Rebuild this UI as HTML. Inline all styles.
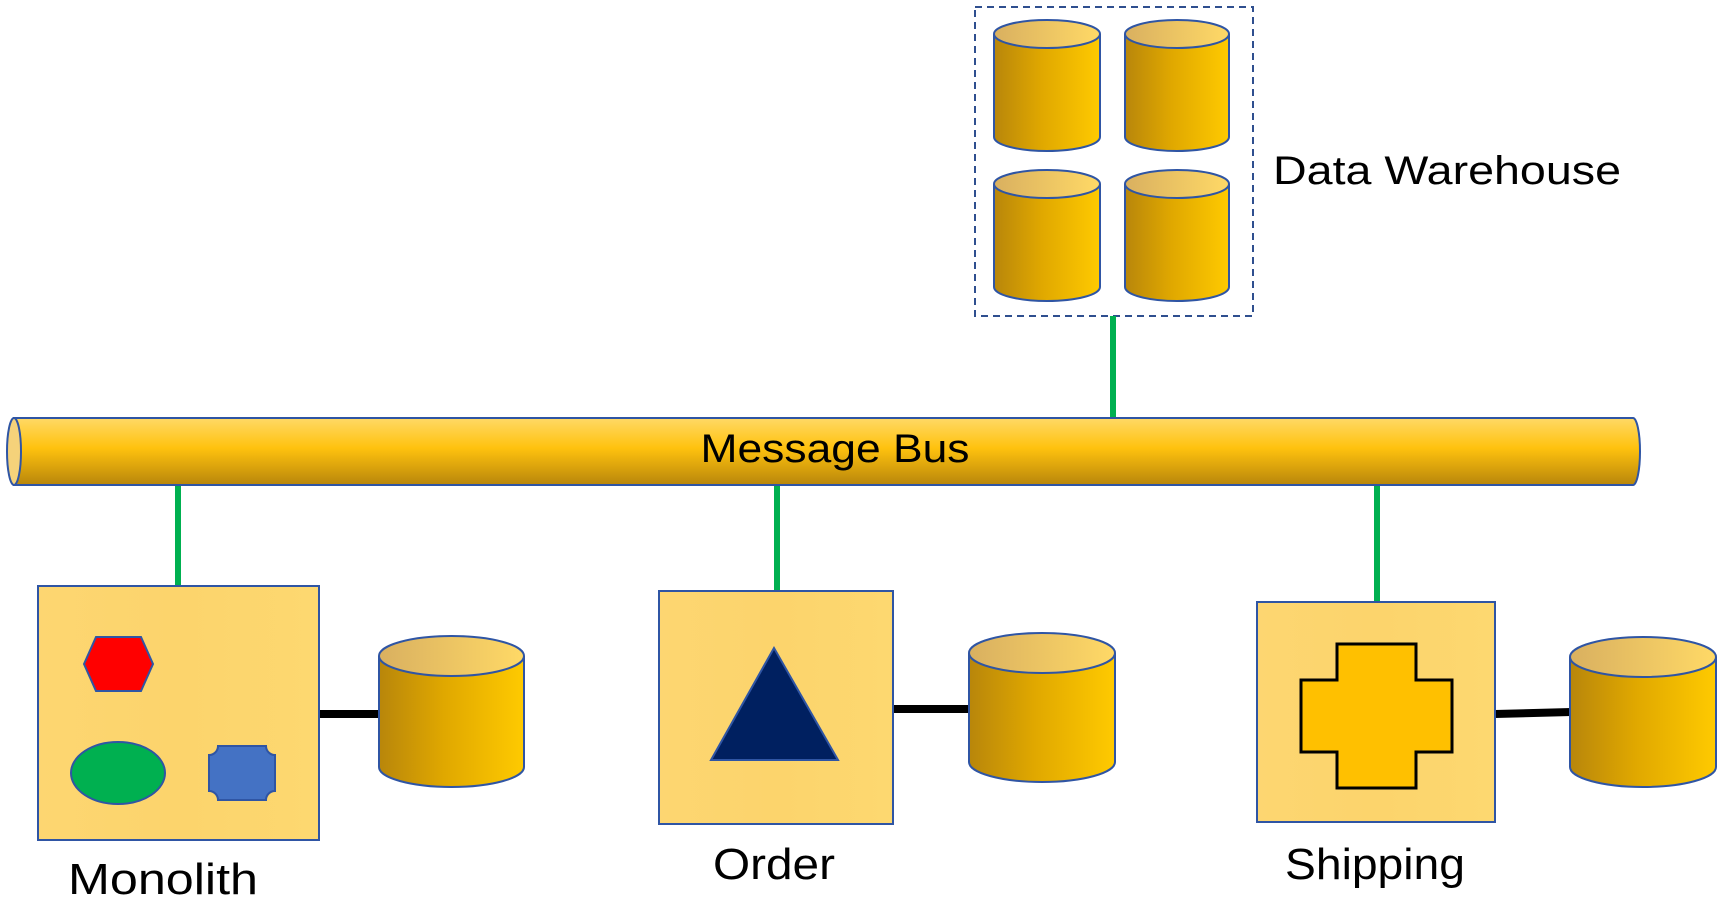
<!DOCTYPE html>
<html><head><meta charset="utf-8"><style>html,body{margin:0;padding:0;background:#fff}svg{display:block}</style></head>
<body>
<svg width="1723" height="900" viewBox="0 0 1723 900" xmlns="http://www.w3.org/2000/svg">
<defs>
<linearGradient id="cb" x1="0" y1="0" x2="1" y2="0">
<stop offset="0" stop-color="#b8860b"/><stop offset="0.45" stop-color="#e0a800"/><stop offset="1" stop-color="#ffca00"/>
</linearGradient>
<linearGradient id="ct" x1="0" y1="0" x2="1" y2="0">
<stop offset="0" stop-color="#d9b060"/><stop offset="1" stop-color="#ffd966"/>
</linearGradient>
<linearGradient id="bus" x1="0" y1="0" x2="0" y2="1">
<stop offset="0" stop-color="#ffd966"/><stop offset="0.45" stop-color="#ffc20e"/><stop offset="1" stop-color="#b8860b"/>
</linearGradient>
<linearGradient id="box" x1="0" y1="0" x2="1" y2="0">
<stop offset="0" stop-color="#fdd671"/><stop offset="0.5" stop-color="#fcd46c"/><stop offset="1" stop-color="#fdd870"/>
</linearGradient>
</defs>

<rect x="975" y="7" width="278" height="309" fill="none" stroke="#2f4f8f" stroke-width="2" stroke-dasharray="7,5"/>
<g stroke="#2f55a4" stroke-width="2">
<path d="M994 34 V137 A53 14 0 0 0 1100 137 V34" fill="url(#cb)"/><ellipse cx="1047" cy="34" rx="53" ry="14" fill="url(#ct)"/>
<path d="M1125 34 V137 A52 14 0 0 0 1229 137 V34" fill="url(#cb)"/><ellipse cx="1177" cy="34" rx="52" ry="14" fill="url(#ct)"/>
<path d="M994 184 V287 A53 14 0 0 0 1100 287 V184" fill="url(#cb)"/><ellipse cx="1047" cy="184" rx="53" ry="14" fill="url(#ct)"/>
<path d="M1125 184 V287 A52 14 0 0 0 1229 287 V184" fill="url(#cb)"/><ellipse cx="1177" cy="184" rx="52" ry="14" fill="url(#ct)"/>
</g>
<text x="1273" y="184" font-family="Liberation Sans, sans-serif" font-size="40" textLength="348" lengthAdjust="spacingAndGlyphs">Data Warehouse</text>

<g stroke="#00b050" stroke-width="6">
<line x1="1113" y1="316" x2="1113" y2="418"/>
<line x1="178" y1="485" x2="178" y2="586"/>
<line x1="777" y1="485" x2="777" y2="591"/>
<line x1="1377" y1="485" x2="1377" y2="602"/>
</g>

<path d="M14 418 H1633 A7 33.5 0 0 1 1633 485 H14 Z" fill="url(#bus)" stroke="#2f55a4" stroke-width="2"/>
<ellipse cx="14" cy="451.5" rx="7" ry="33.5" fill="#f5d27a" stroke="#2f55a4" stroke-width="2"/>
<text x="835" y="462" text-anchor="middle" font-family="Liberation Sans, sans-serif" font-size="40" textLength="269" lengthAdjust="spacingAndGlyphs">Message Bus</text>

<g stroke="#000" stroke-width="8">
<line x1="319" y1="714" x2="380" y2="714"/>
<line x1="893" y1="709" x2="970" y2="709"/>
<line x1="1495" y1="714" x2="1571" y2="712"/>
</g>

<g fill="url(#box)" stroke="#2f55a4" stroke-width="2">
<rect x="38" y="586" width="281" height="254"/>
<rect x="659" y="591" width="234" height="233"/>
<rect x="1257" y="602" width="238" height="220"/>
</g>

<polygon points="84,664 96,637 141,637 153,664 141,691 96,691" fill="#ff0000" stroke="#2f55a4" stroke-width="2"/>
<ellipse cx="118" cy="773" rx="47" ry="31" fill="#00b050" stroke="#2f55a4" stroke-width="2"/>
<path d="M218 746 H266 A9 9 0 0 0 275 755 V791 A9 9 0 0 0 266 800 H218 A9 9 0 0 0 209 791 V755 A9 9 0 0 0 218 746 Z" fill="#4472c4" stroke="#2f55a4" stroke-width="2"/>

<polygon points="774,648 711,760 838,760" fill="#002060" stroke="#2f55a4" stroke-width="2"/>

<polygon points="1337,644 1416,644 1416,680 1452,680 1452,752 1416,752 1416,788 1337,788 1337,752 1301,752 1301,680 1337,680" fill="#ffc000" stroke="#000" stroke-width="3"/>

<g stroke="#2f55a4" stroke-width="2">
<path d="M379 656 V767 A72.5 20 0 0 0 524 767 V656" fill="url(#cb)"/><ellipse cx="451.5" cy="656" rx="72.5" ry="20" fill="url(#ct)"/>
<path d="M969 653 V762 A73 20 0 0 0 1115 762 V653" fill="url(#cb)"/><ellipse cx="1042" cy="653" rx="73" ry="20" fill="url(#ct)"/>
<path d="M1570 657 V767 A73 20 0 0 0 1716 767 V657" fill="url(#cb)"/><ellipse cx="1643" cy="657" rx="73" ry="20" fill="url(#ct)"/>
</g>

<g font-family="Liberation Sans, sans-serif" font-size="44" text-anchor="middle">
<text x="163" y="894" textLength="190" lengthAdjust="spacingAndGlyphs">Monolith</text>
<text x="774" y="879" textLength="122" lengthAdjust="spacingAndGlyphs">Order</text>
<text x="1375" y="879" textLength="180" lengthAdjust="spacingAndGlyphs">Shipping</text>
</g>
</svg>
</body></html>
